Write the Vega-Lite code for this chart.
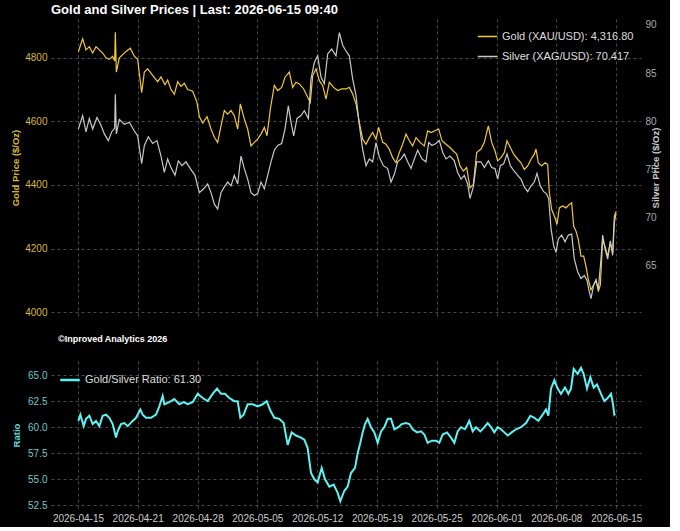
{
  "$schema": "https://vega.github.io/schema/vega-lite/v6.json",
  "background": "black",
  "padding": {"left": 10, "top": 4, "right": 10, "bottom": 4},
  "config": {
    "font": "Liberation Sans",
    "view": {"stroke": null},
    "axis": {
      "domain": false,
      "ticks": false,
      "grid": true,
      "gridColor": "#5a5a5a",
      "gridDash": [3, 3],
      "gridWidth": 0.8,
      "labelFont": "Liberation Sans",
      "labelFontSize": 10,
      "labelPadding": 4,
      "titleFont": "Liberation Sans",
      "titleFontSize": 9.5,
      "titleFontWeight": "bold"
    },
    "legend": {
      "symbolType": "stroke",
      "labelFont": "Liberation Sans",
      "labelFontSize": 11,
      "labelColor": "#dddddd",
      "symbolSize": 380,
      "rowPadding": 4
    }
  },
  "datasets": {
    "gold": [
      {"bar": 1, "price": 4819}, {"bar": 14, "price": 4860}, {"bar": 24, "price": 4825}, {"bar": 34, "price": 4835},
      {"bar": 44, "price": 4815}, {"bar": 54, "price": 4835}, {"bar": 64, "price": 4825}, {"bar": 74, "price": 4815},
      {"bar": 84, "price": 4800}, {"bar": 94, "price": 4795}, {"bar": 104, "price": 4805}, {"bar": 110, "price": 4790},
      {"bar": 112, "price": 4880}, {"bar": 115, "price": 4755}, {"bar": 124, "price": 4800}, {"bar": 134, "price": 4810},
      {"bar": 144, "price": 4820}, {"bar": 157, "price": 4830}, {"bar": 169, "price": 4805}, {"bar": 179, "price": 4795},
      {"bar": 191, "price": 4690}, {"bar": 199, "price": 4755}, {"bar": 209, "price": 4765}, {"bar": 224, "price": 4745},
      {"bar": 239, "price": 4725}, {"bar": 249, "price": 4740}, {"bar": 261, "price": 4715}, {"bar": 269, "price": 4730},
      {"bar": 279, "price": 4700}, {"bar": 289, "price": 4685}, {"bar": 299, "price": 4725}, {"bar": 309, "price": 4710},
      {"bar": 319, "price": 4720}, {"bar": 329, "price": 4700}, {"bar": 344, "price": 4695}, {"bar": 357, "price": 4660},
      {"bar": 364, "price": 4615}, {"bar": 374, "price": 4595}, {"bar": 387, "price": 4615},
      {"bar": 399, "price": 4576}, {"bar": 409, "price": 4550}, {"bar": 419, "price": 4534}, {"bar": 429, "price": 4586},
      {"bar": 439, "price": 4634}, {"bar": 449, "price": 4623}, {"bar": 459, "price": 4634}, {"bar": 469, "price": 4618},
      {"bar": 479, "price": 4576}, {"bar": 487, "price": 4655}, {"bar": 499, "price": 4607}, {"bar": 509, "price": 4576},
      {"bar": 519, "price": 4523}, {"bar": 529, "price": 4534}, {"bar": 539, "price": 4544}, {"bar": 549, "price": 4560},
      {"bar": 559, "price": 4581}, {"bar": 567, "price": 4555}, {"bar": 577, "price": 4639}, {"bar": 589, "price": 4713},
      {"bar": 599, "price": 4697}, {"bar": 611, "price": 4707}, {"bar": 621, "price": 4739}, {"bar": 634, "price": 4755},
      {"bar": 644, "price": 4707}, {"bar": 654, "price": 4723}, {"bar": 664, "price": 4718}, {"bar": 677, "price": 4702},
      {"bar": 689, "price": 4676}, {"bar": 697, "price": 4660}, {"bar": 704, "price": 4744}, {"bar": 714, "price": 4765},
      {"bar": 724, "price": 4728}, {"bar": 734, "price": 4713}, {"bar": 744, "price": 4670}, {"bar": 754, "price": 4723},
      {"bar": 767, "price": 4707}, {"bar": 779, "price": 4697}, {"bar": 791, "price": 4702},
      {"bar": 804, "price": 4702}, {"bar": 814, "price": 4707}, {"bar": 824, "price": 4686}, {"bar": 834, "price": 4655},
      {"bar": 844, "price": 4597}, {"bar": 854, "price": 4544}, {"bar": 864, "price": 4528}, {"bar": 874, "price": 4549},
      {"bar": 884, "price": 4565}, {"bar": 894, "price": 4544}, {"bar": 902, "price": 4581}, {"bar": 914, "price": 4534},
      {"bar": 924, "price": 4528}, {"bar": 934, "price": 4512}, {"bar": 944, "price": 4486}, {"bar": 954, "price": 4470},
      {"bar": 964, "price": 4502}, {"bar": 974, "price": 4528}, {"bar": 984, "price": 4560}, {"bar": 994, "price": 4539},
      {"bar": 1004, "price": 4523}, {"bar": 1014, "price": 4549}, {"bar": 1026, "price": 4534}, {"bar": 1039, "price": 4523},
      {"bar": 1049, "price": 4570}, {"bar": 1059, "price": 4565}, {"bar": 1069, "price": 4570}, {"bar": 1082, "price": 4576},
      {"bar": 1092, "price": 4539}, {"bar": 1104, "price": 4528}, {"bar": 1116, "price": 4518}, {"bar": 1126, "price": 4507},
      {"bar": 1136, "price": 4497}, {"bar": 1146, "price": 4460}, {"bar": 1156, "price": 4444}, {"bar": 1166, "price": 4455},
      {"bar": 1176, "price": 4391}, {"bar": 1186, "price": 4402}, {"bar": 1196, "price": 4502},
      {"bar": 1209, "price": 4513}, {"bar": 1219, "price": 4534}, {"bar": 1231, "price": 4586}, {"bar": 1241, "price": 4534},
      {"bar": 1251, "price": 4507}, {"bar": 1259, "price": 4476}, {"bar": 1269, "price": 4486}, {"bar": 1279, "price": 4502},
      {"bar": 1287, "price": 4539}, {"bar": 1297, "price": 4518}, {"bar": 1307, "price": 4497}, {"bar": 1319, "price": 4481},
      {"bar": 1329, "price": 4470}, {"bar": 1339, "price": 4449}, {"bar": 1349, "price": 4460}, {"bar": 1359, "price": 4481},
      {"bar": 1369, "price": 4497}, {"bar": 1374, "price": 4513}, {"bar": 1381, "price": 4470}, {"bar": 1391, "price": 4460},
      {"bar": 1401, "price": 4470}, {"bar": 1409, "price": 4465}, {"bar": 1414, "price": 4376}, {"bar": 1421, "price": 4323},
      {"bar": 1431, "price": 4297}, {"bar": 1437, "price": 4276}, {"bar": 1444, "price": 4328}, {"bar": 1454, "price": 4334},
      {"bar": 1464, "price": 4328}, {"bar": 1474, "price": 4339}, {"bar": 1481, "price": 4344}, {"bar": 1487, "price": 4270},
      {"bar": 1494, "price": 4255}, {"bar": 1501, "price": 4228}, {"bar": 1509, "price": 4176}, {"bar": 1517, "price": 4176},
      {"bar": 1524, "price": 4144}, {"bar": 1531, "price": 4102}, {"bar": 1539, "price": 4070}, {"bar": 1547, "price": 4086},
      {"bar": 1554, "price": 4102}, {"bar": 1561, "price": 4065}, {"bar": 1567, "price": 4086}, {"bar": 1574, "price": 4228},
      {"bar": 1581, "price": 4207}, {"bar": 1589, "price": 4176}, {"bar": 1597, "price": 4218}, {"bar": 1604, "price": 4186},
      {"bar": 1609, "price": 4302}, {"bar": 1614, "price": 4317}
    ],
    "silver": [
      {"bar": 1, "price": 79.2}, {"bar": 14, "price": 80.6}, {"bar": 24, "price": 78.9}, {"bar": 34, "price": 80.3},
      {"bar": 44, "price": 79.2}, {"bar": 57, "price": 80.4}, {"bar": 69, "price": 79.6}, {"bar": 79, "price": 78.7},
      {"bar": 91, "price": 78.0}, {"bar": 101, "price": 78.9}, {"bar": 110, "price": 79.3}, {"bar": 112, "price": 82.8},
      {"bar": 115, "price": 78.7}, {"bar": 124, "price": 80.2}, {"bar": 139, "price": 79.7}, {"bar": 154, "price": 79.9},
      {"bar": 169, "price": 79.0}, {"bar": 179, "price": 78.5}, {"bar": 191, "price": 75.6}, {"bar": 199, "price": 77.5},
      {"bar": 211, "price": 78.4}, {"bar": 224, "price": 77.7}, {"bar": 237, "price": 78.0}, {"bar": 249, "price": 76.4},
      {"bar": 259, "price": 74.7}, {"bar": 269, "price": 76.1}, {"bar": 279, "price": 75.2}, {"bar": 291, "price": 74.4},
      {"bar": 301, "price": 75.9}, {"bar": 312, "price": 75.4}, {"bar": 324, "price": 75.8}, {"bar": 337, "price": 75.1},
      {"bar": 351, "price": 74.4}, {"bar": 364, "price": 72.6}, {"bar": 377, "price": 73.0}, {"bar": 389, "price": 73.5},
      {"bar": 399, "price": 72.6}, {"bar": 409, "price": 71.4}, {"bar": 419, "price": 70.9}, {"bar": 429, "price": 72.6},
      {"bar": 439, "price": 73.2}, {"bar": 449, "price": 73.7}, {"bar": 459, "price": 73.3}, {"bar": 469, "price": 74.4},
      {"bar": 479, "price": 73.5}, {"bar": 489, "price": 76.4}, {"bar": 499, "price": 75.1}, {"bar": 509, "price": 74.0},
      {"bar": 519, "price": 72.6}, {"bar": 529, "price": 72.3}, {"bar": 539, "price": 72.5}, {"bar": 549, "price": 73.7},
      {"bar": 559, "price": 73.0}, {"bar": 569, "price": 74.4}, {"bar": 579, "price": 75.8}, {"bar": 589, "price": 77.0},
      {"bar": 599, "price": 77.5}, {"bar": 611, "price": 77.7}, {"bar": 621, "price": 79.2}, {"bar": 631, "price": 81.6},
      {"bar": 639, "price": 79.9}, {"bar": 647, "price": 78.5}, {"bar": 657, "price": 80.3}, {"bar": 669, "price": 80.6},
      {"bar": 679, "price": 81.1}, {"bar": 691, "price": 80.3}, {"bar": 699, "price": 84.4}, {"bar": 709, "price": 86.1},
      {"bar": 719, "price": 86.8}, {"bar": 729, "price": 84.6}, {"bar": 739, "price": 83.9}, {"bar": 749, "price": 87.0},
      {"bar": 761, "price": 87.5}, {"bar": 774, "price": 86.8}, {"bar": 784, "price": 89.2}, {"bar": 794, "price": 87.9},
      {"bar": 804, "price": 87.3}, {"bar": 814, "price": 86.8}, {"bar": 824, "price": 84.4}, {"bar": 834, "price": 82.7},
      {"bar": 844, "price": 79.6}, {"bar": 854, "price": 77.1}, {"bar": 864, "price": 75.4}, {"bar": 874, "price": 76.1},
      {"bar": 884, "price": 75.8}, {"bar": 894, "price": 77.8}, {"bar": 904, "price": 76.3}, {"bar": 916, "price": 75.4},
      {"bar": 929, "price": 75.1}, {"bar": 939, "price": 73.7}, {"bar": 949, "price": 74.5}, {"bar": 959, "price": 75.8},
      {"bar": 969, "price": 76.1}, {"bar": 979, "price": 76.6}, {"bar": 989, "price": 75.8}, {"bar": 999, "price": 75.1},
      {"bar": 1009, "price": 76.1}, {"bar": 1019, "price": 77.0}, {"bar": 1032, "price": 76.1}, {"bar": 1044, "price": 75.8},
      {"bar": 1052, "price": 77.8}, {"bar": 1062, "price": 77.5}, {"bar": 1074, "price": 77.7}, {"bar": 1084, "price": 78.0},
      {"bar": 1094, "price": 76.8}, {"bar": 1104, "price": 76.1}, {"bar": 1116, "price": 76.4}, {"bar": 1129, "price": 75.9},
      {"bar": 1139, "price": 74.7}, {"bar": 1149, "price": 74.0}, {"bar": 1159, "price": 74.4}, {"bar": 1169, "price": 73.5},
      {"bar": 1176, "price": 72.0}, {"bar": 1186, "price": 73.2}, {"bar": 1196, "price": 75.8},
      {"bar": 1209, "price": 75.8}, {"bar": 1219, "price": 75.2}, {"bar": 1231, "price": 75.9}, {"bar": 1241, "price": 75.2},
      {"bar": 1251, "price": 75.1}, {"bar": 1259, "price": 74.0}, {"bar": 1267, "price": 75.4}, {"bar": 1277, "price": 75.6},
      {"bar": 1287, "price": 76.6}, {"bar": 1297, "price": 75.4}, {"bar": 1307, "price": 74.9}, {"bar": 1319, "price": 74.4},
      {"bar": 1329, "price": 74.0}, {"bar": 1339, "price": 73.2}, {"bar": 1349, "price": 72.7}, {"bar": 1359, "price": 73.3},
      {"bar": 1369, "price": 73.7}, {"bar": 1377, "price": 74.6}, {"bar": 1387, "price": 73.3}, {"bar": 1397, "price": 72.7},
      {"bar": 1405, "price": 72.5}, {"bar": 1412, "price": 72.0}, {"bar": 1419, "price": 68.9}, {"bar": 1427, "price": 67.1},
      {"bar": 1434, "price": 66.4}, {"bar": 1441, "price": 67.8}, {"bar": 1451, "price": 68.2}, {"bar": 1461, "price": 67.5},
      {"bar": 1471, "price": 68.2}, {"bar": 1481, "price": 68.3}, {"bar": 1489, "price": 65.7}, {"bar": 1499, "price": 64.4},
      {"bar": 1509, "price": 63.7}, {"bar": 1519, "price": 64.0}, {"bar": 1527, "price": 63.5}, {"bar": 1534, "price": 62.3},
      {"bar": 1539, "price": 61.6}, {"bar": 1547, "price": 63.0}, {"bar": 1554, "price": 63.5}, {"bar": 1561, "price": 62.6},
      {"bar": 1569, "price": 65.7}, {"bar": 1574, "price": 68.2}, {"bar": 1581, "price": 66.8}, {"bar": 1589, "price": 65.7},
      {"bar": 1597, "price": 67.6}, {"bar": 1604, "price": 66.1}, {"bar": 1609, "price": 69.5}, {"bar": 1614, "price": 70.4}
    ],
    "ratio": [
      {"bar": 1, "ratio": 60.6}, {"bar": 7, "ratio": 61.2}, {"bar": 17, "ratio": 60.1}, {"bar": 24, "ratio": 60.8},
      {"bar": 34, "ratio": 61.1}, {"bar": 44, "ratio": 60.3}, {"bar": 54, "ratio": 60.6}, {"bar": 64, "ratio": 60.1},
      {"bar": 74, "ratio": 61.1}, {"bar": 84, "ratio": 61.2}, {"bar": 94, "ratio": 60.9}, {"bar": 104, "ratio": 60.3},
      {"bar": 114, "ratio": 59.0}, {"bar": 119, "ratio": 59.6}, {"bar": 129, "ratio": 60.3}, {"bar": 139, "ratio": 60.4},
      {"bar": 149, "ratio": 60.1}, {"bar": 164, "ratio": 60.6}, {"bar": 174, "ratio": 60.9}, {"bar": 187, "ratio": 61.7},
      {"bar": 194, "ratio": 61.2}, {"bar": 204, "ratio": 60.9}, {"bar": 219, "ratio": 60.9}, {"bar": 234, "ratio": 61.2},
      {"bar": 244, "ratio": 62.0}, {"bar": 254, "ratio": 63.0}, {"bar": 259, "ratio": 62.2}, {"bar": 274, "ratio": 62.4},
      {"bar": 289, "ratio": 62.7}, {"bar": 304, "ratio": 62.2}, {"bar": 317, "ratio": 62.4}, {"bar": 329, "ratio": 62.2},
      {"bar": 344, "ratio": 62.4}, {"bar": 359, "ratio": 63.2}, {"bar": 374, "ratio": 62.8}, {"bar": 389, "ratio": 62.5},
      {"bar": 404, "ratio": 63.2}, {"bar": 417, "ratio": 63.7}, {"bar": 429, "ratio": 63.2}, {"bar": 441, "ratio": 63.2},
      {"bar": 454, "ratio": 62.8}, {"bar": 469, "ratio": 62.5}, {"bar": 479, "ratio": 62.5}, {"bar": 487, "ratio": 60.9},
      {"bar": 497, "ratio": 61.2}, {"bar": 509, "ratio": 62.2}, {"bar": 524, "ratio": 62.2}, {"bar": 539, "ratio": 62.0},
      {"bar": 554, "ratio": 62.2}, {"bar": 566, "ratio": 62.5}, {"bar": 577, "ratio": 61.6}, {"bar": 589, "ratio": 60.9},
      {"bar": 604, "ratio": 60.8}, {"bar": 617, "ratio": 60.4}, {"bar": 629, "ratio": 58.3}, {"bar": 641, "ratio": 59.5},
      {"bar": 654, "ratio": 59.2}, {"bar": 669, "ratio": 59.0}, {"bar": 679, "ratio": 58.8}, {"bar": 689, "ratio": 58.0},
      {"bar": 699, "ratio": 55.6}, {"bar": 709, "ratio": 55.0}, {"bar": 719, "ratio": 54.7}, {"bar": 731, "ratio": 56.1},
      {"bar": 741, "ratio": 55.0}, {"bar": 754, "ratio": 54.3}, {"bar": 767, "ratio": 54.5}, {"bar": 779, "ratio": 53.7},
      {"bar": 787, "ratio": 52.9}, {"bar": 799, "ratio": 53.9}, {"bar": 809, "ratio": 54.3}, {"bar": 819, "ratio": 55.6},
      {"bar": 831, "ratio": 56.1}, {"bar": 839, "ratio": 57.5}, {"bar": 847, "ratio": 58.5}, {"bar": 854, "ratio": 59.5},
      {"bar": 861, "ratio": 60.3}, {"bar": 869, "ratio": 60.8}, {"bar": 879, "ratio": 60.0}, {"bar": 889, "ratio": 59.5},
      {"bar": 899, "ratio": 58.5}, {"bar": 909, "ratio": 59.6}, {"bar": 919, "ratio": 60.0}, {"bar": 929, "ratio": 60.8},
      {"bar": 939, "ratio": 60.8}, {"bar": 949, "ratio": 59.8}, {"bar": 961, "ratio": 60.0}, {"bar": 971, "ratio": 60.3},
      {"bar": 984, "ratio": 60.4}, {"bar": 994, "ratio": 60.3}, {"bar": 1004, "ratio": 59.8}, {"bar": 1017, "ratio": 59.5},
      {"bar": 1029, "ratio": 59.6}, {"bar": 1039, "ratio": 59.3}, {"bar": 1049, "ratio": 58.5}, {"bar": 1061, "ratio": 58.7},
      {"bar": 1074, "ratio": 58.7}, {"bar": 1084, "ratio": 58.5}, {"bar": 1094, "ratio": 59.3}, {"bar": 1107, "ratio": 59.5},
      {"bar": 1119, "ratio": 59.0}, {"bar": 1129, "ratio": 58.5}, {"bar": 1139, "ratio": 59.6}, {"bar": 1149, "ratio": 60.0},
      {"bar": 1161, "ratio": 59.8}, {"bar": 1174, "ratio": 60.6}, {"bar": 1184, "ratio": 59.6}, {"bar": 1194, "ratio": 60.0},
      {"bar": 1207, "ratio": 59.6}, {"bar": 1219, "ratio": 60.0}, {"bar": 1229, "ratio": 60.4}, {"bar": 1239, "ratio": 60.0},
      {"bar": 1249, "ratio": 59.5}, {"bar": 1259, "ratio": 60.0}, {"bar": 1269, "ratio": 59.8}, {"bar": 1279, "ratio": 59.5},
      {"bar": 1289, "ratio": 59.2}, {"bar": 1301, "ratio": 59.5}, {"bar": 1314, "ratio": 59.8}, {"bar": 1329, "ratio": 60.0},
      {"bar": 1344, "ratio": 60.4}, {"bar": 1357, "ratio": 61.1}, {"bar": 1369, "ratio": 60.9}, {"bar": 1381, "ratio": 60.6},
      {"bar": 1394, "ratio": 61.2}, {"bar": 1404, "ratio": 61.7}, {"bar": 1411, "ratio": 61.1}, {"bar": 1419, "ratio": 63.7},
      {"bar": 1429, "ratio": 64.5}, {"bar": 1439, "ratio": 63.7}, {"bar": 1449, "ratio": 63.2}, {"bar": 1461, "ratio": 63.8},
      {"bar": 1471, "ratio": 63.2}, {"bar": 1479, "ratio": 63.7}, {"bar": 1487, "ratio": 65.6}, {"bar": 1499, "ratio": 65.1},
      {"bar": 1509, "ratio": 65.7}, {"bar": 1517, "ratio": 65.1}, {"bar": 1527, "ratio": 63.7}, {"bar": 1537, "ratio": 64.8},
      {"bar": 1547, "ratio": 63.8}, {"bar": 1557, "ratio": 64.1}, {"bar": 1569, "ratio": 63.2}, {"bar": 1579, "ratio": 62.5},
      {"bar": 1589, "ratio": 62.8}, {"bar": 1599, "ratio": 63.2}, {"bar": 1604, "ratio": 62.4}, {"bar": 1609, "ratio": 61.2},
      {"bar": 1612, "ratio": 61.3}
    ]
  },
  "spacing": 17,
  "resolve": {"scale": {"color": "independent"}, "legend": {"color": "independent"}},
  "vconcat": [
    {
      "width": 590,
      "height": 297,
      "title": {
        "text": "Gold and Silver Prices | Last: 2026-06-15 09:40",
        "anchor": "start",
        "frame": "group",
        "color": "white",
        "font": "Liberation Sans",
        "fontSize": 13,
        "fontWeight": "bold",
        "offset": 2
      },
      "layer": [
        {
          "data": {"name": "gold"},
          "mark": {"type": "line", "strokeWidth": 1.2},
          "encoding": {
            "x": {
              "field": "bar",
              "type": "quantitative",
              "scale": {"domain": [-81, 1689], "nice": false, "zero": false},
              "axis": {"values": [0, 179, 359, 538, 718, 897, 1076, 1256, 1435, 1615], "labels": false, "title": null}
            },
            "y": {
              "field": "price",
              "type": "quantitative",
              "scale": {"domain": [3988, 4922], "nice": false, "zero": false},
              "axis": {
                "values": [4000, 4200, 4400, 4600, 4800],
                "format": "d",
                "title": "Gold Price ($/Oz)",
                "titleColor": "#d8b83c",
                "labelColor": "#d8b83c",
                "titlePadding": 4
              }
            },
            "color": {
              "datum": "Gold (XAU/USD): 4,316.80",
              "type": "nominal",
              "scale": {
                "domain": ["Gold (XAU/USD): 4,316.80", "Silver (XAG/USD): 70.417"],
                "range": ["#f2c838", "#c8c8c8"]
              },
              "legend": {"title": null, "orient": "top-right", "offset": 7, "symbolStrokeWidth": 1.5}
            }
          }
        },
        {
          "data": {"name": "silver"},
          "mark": {"type": "line", "strokeWidth": 1.2},
          "encoding": {
            "x": {"field": "bar", "type": "quantitative"},
            "y": {
              "field": "price",
              "type": "quantitative",
              "scale": {"domain": [59.8, 90.62], "nice": false, "zero": false},
              "axis": {
                "orient": "right",
                "grid": false,
                "values": [65, 70, 75, 80, 85, 90],
                "title": "Silver Price ($/Oz)",
                "titleColor": "#cccccc",
                "labelColor": "#aaaaaa",
                "titleAngle": 270,
                "titlePadding": 4
              }
            },
            "color": {"datum": "Silver (XAG/USD): 70.417", "type": "nominal"}
          }
        }
      ],
      "resolve": {"scale": {"y": "independent"}, "axis": {"y": "independent"}}
    },
    {
      "width": 590,
      "height": 148,
      "title": {
        "text": "©Inproved Analytics 2026",
        "anchor": "start",
        "frame": "group",
        "color": "white",
        "font": "Liberation Sans",
        "fontSize": 9,
        "fontWeight": "bold",
        "dx": 7,
        "offset": 17
      },
      "data": {"name": "ratio"},
      "mark": {"type": "line", "strokeWidth": 2},
      "encoding": {
        "x": {
          "field": "bar",
          "type": "quantitative",
          "scale": {"domain": [-81, 1689], "nice": false, "zero": false},
          "axis": {
            "values": [0, 179, 359, 538, 718, 897, 1076, 1256, 1435, 1615],
            "title": null,
            "labelColor": "#cccccc",
            "labelExpr": "datum.value < 90 ? '2026-04-15' : datum.value < 270 ? '2026-04-21' : datum.value < 450 ? '2026-04-28' : datum.value < 630 ? '2026-05-05' : datum.value < 800 ? '2026-05-12' : datum.value < 990 ? '2026-05-19' : datum.value < 1170 ? '2026-05-25' : datum.value < 1340 ? '2026-06-01' : datum.value < 1520 ? '2026-06-08' : '2026-06-15'"
          }
        },
        "y": {
          "field": "ratio",
          "type": "quantitative",
          "scale": {"domain": [52.15, 66.35], "nice": false, "zero": false},
          "axis": {
            "values": [52.5, 55, 57.5, 60, 62.5, 65],
            "format": ".1f",
            "title": "Ratio",
            "titleColor": "#5ed8d8",
            "labelColor": "#6cc9c9",
            "titlePadding": 6
          }
        },
        "color": {
          "datum": "Gold/Silver Ratio: 61.30",
          "type": "nominal",
          "scale": {"range": ["#5ef2f2"]},
          "legend": {"title": null, "orient": "top-left", "offset": 8, "symbolStrokeWidth": 2.5, "labelFontSize": 11}
        }
      }
    }
  ]
}
